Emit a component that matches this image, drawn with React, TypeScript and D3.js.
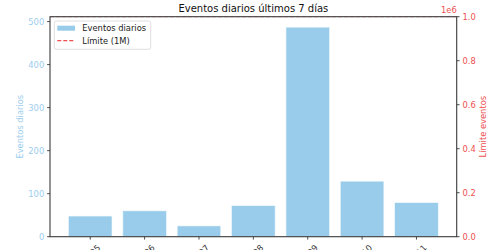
import React from "react";
import * as d3 from "d3";

const categories = ["06-05", "06-06", "06-07", "06-08", "06-09", "06-10", "06-11"];
const dailyEvents = [48, 60, 25, 72, 487, 129, 79];
const limitValue = 1000000;
const leftTicks = [0, 100, 200, 300, 400, 500];
const rightTicks = [0, 0.2, 0.4, 0.6, 0.8, 1.0];
const title = "Eventos diarios últimos 7 días";
const leftLabel = "Eventos diarios";
const rightLabel = "Límite eventos";
const legendLabels = ["Eventos diarios", "Límite (1M)"];

const W = 500, H = 250;
const L = 50, R = 456.7, T = 16.7, B = 236.7;
const font = "DejaVu Sans, sans-serif";
const blue = "#98CCEA";
const blueText = "#9ccdee";
const red = "#ee5050";
const spine = "#3a3a3a";

export default function App() {
  const n = categories.length;
  const x = d3.scaleLinear().domain([-0.4 - 0.05 * (n - 0.2), n - 1 + 0.4 + 0.05 * (n - 0.2)]).range([L, R]);
  const yL = d3.scaleLinear().domain([0, d3.max(dailyEvents)! * 1.05]).range([B, T]);
  const yR = d3.scaleLinear().domain([0, 1e6]).range([B, T]);
  const bw = x(0.8) - x(0);
  const fs = 8.33;
  const labelLen = 0.6 * fs * 5;
  const rotW = (labelLen + fs * 1.17) / Math.SQRT2;

  return (
    <div style={{ position: "absolute", left: 0, top: 0 }}>
      <svg width={W} height={H} style={{ display: "block", background: "#fff" }} fontFamily={font}>
        <defs>
          <clipPath id="plotClip">
            <rect x={L} y={T} width={R - L} height={B - T} />
          </clipPath>
        </defs>
        <rect x={0} y={0} width={W} height={H} fill="#fff" />
        {dailyEvents.map((v, i) => (
          <rect key={i} x={x(i) - bw / 2} y={yL(v)} width={bw} height={B - yL(v)} fill={blue} stroke="#eef6fb" strokeWidth={0.6} />
        ))}
        <g clipPath="url(#plotClip)">
          <line x1={L} x2={R} y1={yR(limitValue)} y2={yR(limitValue)} stroke={red} strokeDasharray="4,2" strokeWidth={0.8} />
        </g>
        {/* spines */}
        <rect x={L} y={T} width={R - L} height={B - T} fill="none" stroke={spine} strokeWidth={1.1} />
        {/* x ticks */}
        {categories.map((c, i) => (
          <g key={c}>
            <line x1={x(i)} x2={x(i)} y1={B} y2={B + 2.9} stroke={spine} strokeWidth={0.9} />
            <text
              transform={`translate(${x(i)},${B + 5.8 + rotW / 2}) rotate(-45)`}
              textAnchor="middle"
              dominantBaseline="central"
              fontSize={fs}
              fill="#333"
            >
              {c}
            </text>
          </g>
        ))}
        {/* left ticks */}
        {leftTicks.map((t) => (
          <g key={t}>
            <line x1={L - 2.9} x2={L} y1={yL(t)} y2={yL(t)} stroke={spine} strokeWidth={0.9} />
            <text x={L - 5.8} y={yL(t)} textAnchor="end" dominantBaseline="central" fontSize={fs} fill={blueText}>
              {t}
            </text>
          </g>
        ))}
        {/* right ticks */}
        {rightTicks.map((t) => (
          <g key={t}>
            <line x1={R} x2={R + 2.9} y1={yR(t * 1e6)} y2={yR(t * 1e6)} stroke={spine} strokeWidth={0.9} />
            <text x={R + 5.8} y={yR(t * 1e6)} dominantBaseline="central" fontSize={fs} fill={red}>
              {t.toFixed(1)}
            </text>
          </g>
        ))}
        <text x={R} y={13} textAnchor="end" fontSize={fs} fill={red}>1e6</text>
        {/* axis labels */}
        <text transform={`translate(20,${(T + B) / 2}) rotate(-90)`} textAnchor="middle" dominantBaseline="central" fontSize={fs} fill={blueText}>
          {leftLabel}
        </text>
        <text transform={`translate(483,${(T + B) / 2}) rotate(-90)`} textAnchor="middle" dominantBaseline="central" fontSize={fs} fill={red}>
          {rightLabel}
        </text>
        {/* title */}
        <text x={(L + R) / 2} y={12} textAnchor="middle" fontSize={10} fill="#111">
          {title}
        </text>
        {/* legend */}
        <rect x={54.3} y={21} width={96.4} height={28.3} rx={2} fill="#fff" fillOpacity={0.8} stroke="#d5d5d5" strokeWidth={0.8} />
        <rect x={57.3} y={25.7} width={17.7} height={5} fill={blue} />
        <text x={82.3} y={28.3} dominantBaseline="central" fontSize={fs} fill="#222">{legendLabels[0]}</text>
        <line x1={57.3} x2={75} y1={40.7} y2={40.7} stroke={red} strokeDasharray="4,2" strokeWidth={1.2} />
        <text x={82.3} y={40.7} dominantBaseline="central" fontSize={fs} fill="#222">{legendLabels[1]}</text>
      </svg>
    </div>
  );
}
